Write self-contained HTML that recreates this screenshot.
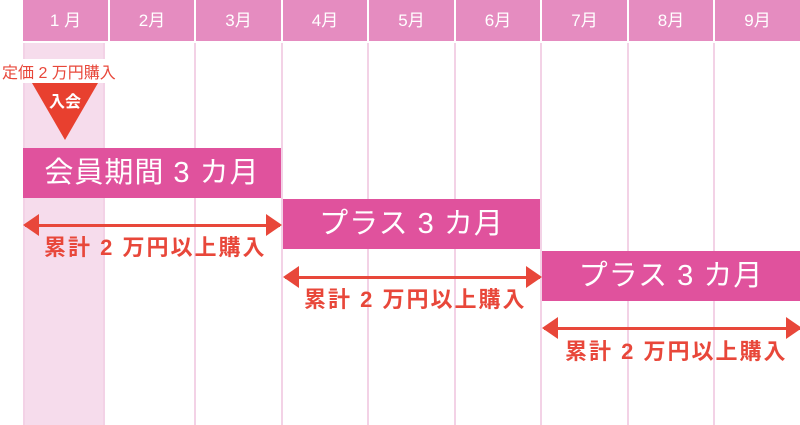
<!DOCTYPE html>
<html><head><meta charset="utf-8"><style>
body{margin:0;width:800px;height:425px;background:#fff;position:relative;overflow:hidden;font-family:"Liberation Sans","Noto Sans CJK JP",sans-serif}
.h{position:absolute;top:0;height:41px;background:#e58cc0;color:#fff;font-size:17px;text-align:center;line-height:41px}
.v{position:absolute;top:43px;bottom:0;width:2px;background:#f3d2e6}
.bar{position:absolute;height:50px;background:#e0529d;color:#fff;font-size:29px;text-align:center;line-height:50px;letter-spacing:1px}
.arr{position:absolute;height:3px;background:#e8473a}
.arr:before,.arr:after{content:"";position:absolute;top:-10px;border-top:11px solid transparent;border-bottom:11px solid transparent}
.arr:before{left:-2px;border-right:16px solid #e8473a}
.arr:after{right:-2px;border-left:16px solid #e8473a}
.lab{position:absolute;color:#e8473a;font-weight:bold;font-size:22px;white-space:nowrap;letter-spacing:2px}
</style></head><body>
<div style="position:absolute;left:25px;top:43px;width:78px;bottom:0;background:#f6dcec"></div>
<div class="v" style="left:23px"></div><div class="v" style="left:103px"></div>
<div class="v" style="left:194px"></div><div class="v" style="left:281px"></div>
<div class="v" style="left:367px"></div><div class="v" style="left:454px"></div>
<div class="v" style="left:540px"></div><div class="v" style="left:627px"></div>
<div class="v" style="left:713px"></div>
<div class="h" style="left:23px;width:85px">1 月</div>
<div class="h" style="left:110px;width:84px">2月</div>
<div class="h" style="left:196px;width:85px">3月</div>
<div class="h" style="left:283px;width:84px">4月</div>
<div class="h" style="left:369px;width:85px">5月</div>
<div class="h" style="left:456px;width:84px">6月</div>
<div class="h" style="left:542px;width:85px">7月</div>
<div class="h" style="left:629px;width:84px">8月</div>
<div class="h" style="left:715px;width:85px">9月</div>
<div style="position:absolute;left:2px;top:59px;color:#e8473a;font-size:16px;background:#fff;white-space:nowrap">定価 2 万円購入</div>
<div style="position:absolute;left:32px;top:83px;width:0;height:0;border-left:33px solid transparent;border-right:33px solid transparent;border-top:57px solid #e8402f"></div>
<div style="position:absolute;left:32px;top:88px;width:66px;text-align:center;color:#fff;font-weight:bold;font-size:16px">入会</div>
<div class="bar" style="left:23px;top:148px;width:258px">会員期間 3 カ月</div>
<div class="bar" style="left:283px;top:199px;width:257px">プラス 3 カ月</div>
<div class="bar" style="left:542px;top:251px;width:258px">プラス 3 カ月</div>
<div class="arr" style="left:25px;top:224px;width:255px"></div>
<div class="lab" style="left:44px;top:230px">累計 2 万円以上購入</div>
<div class="arr" style="left:285px;top:276px;width:255px"></div>
<div class="lab" style="left:304px;top:282px">累計 2 万円以上購入</div>
<div class="arr" style="left:544px;top:327px;width:256px"></div>
<div class="lab" style="left:565px;top:334px">累計 2 万円以上購入</div>
</body></html>
